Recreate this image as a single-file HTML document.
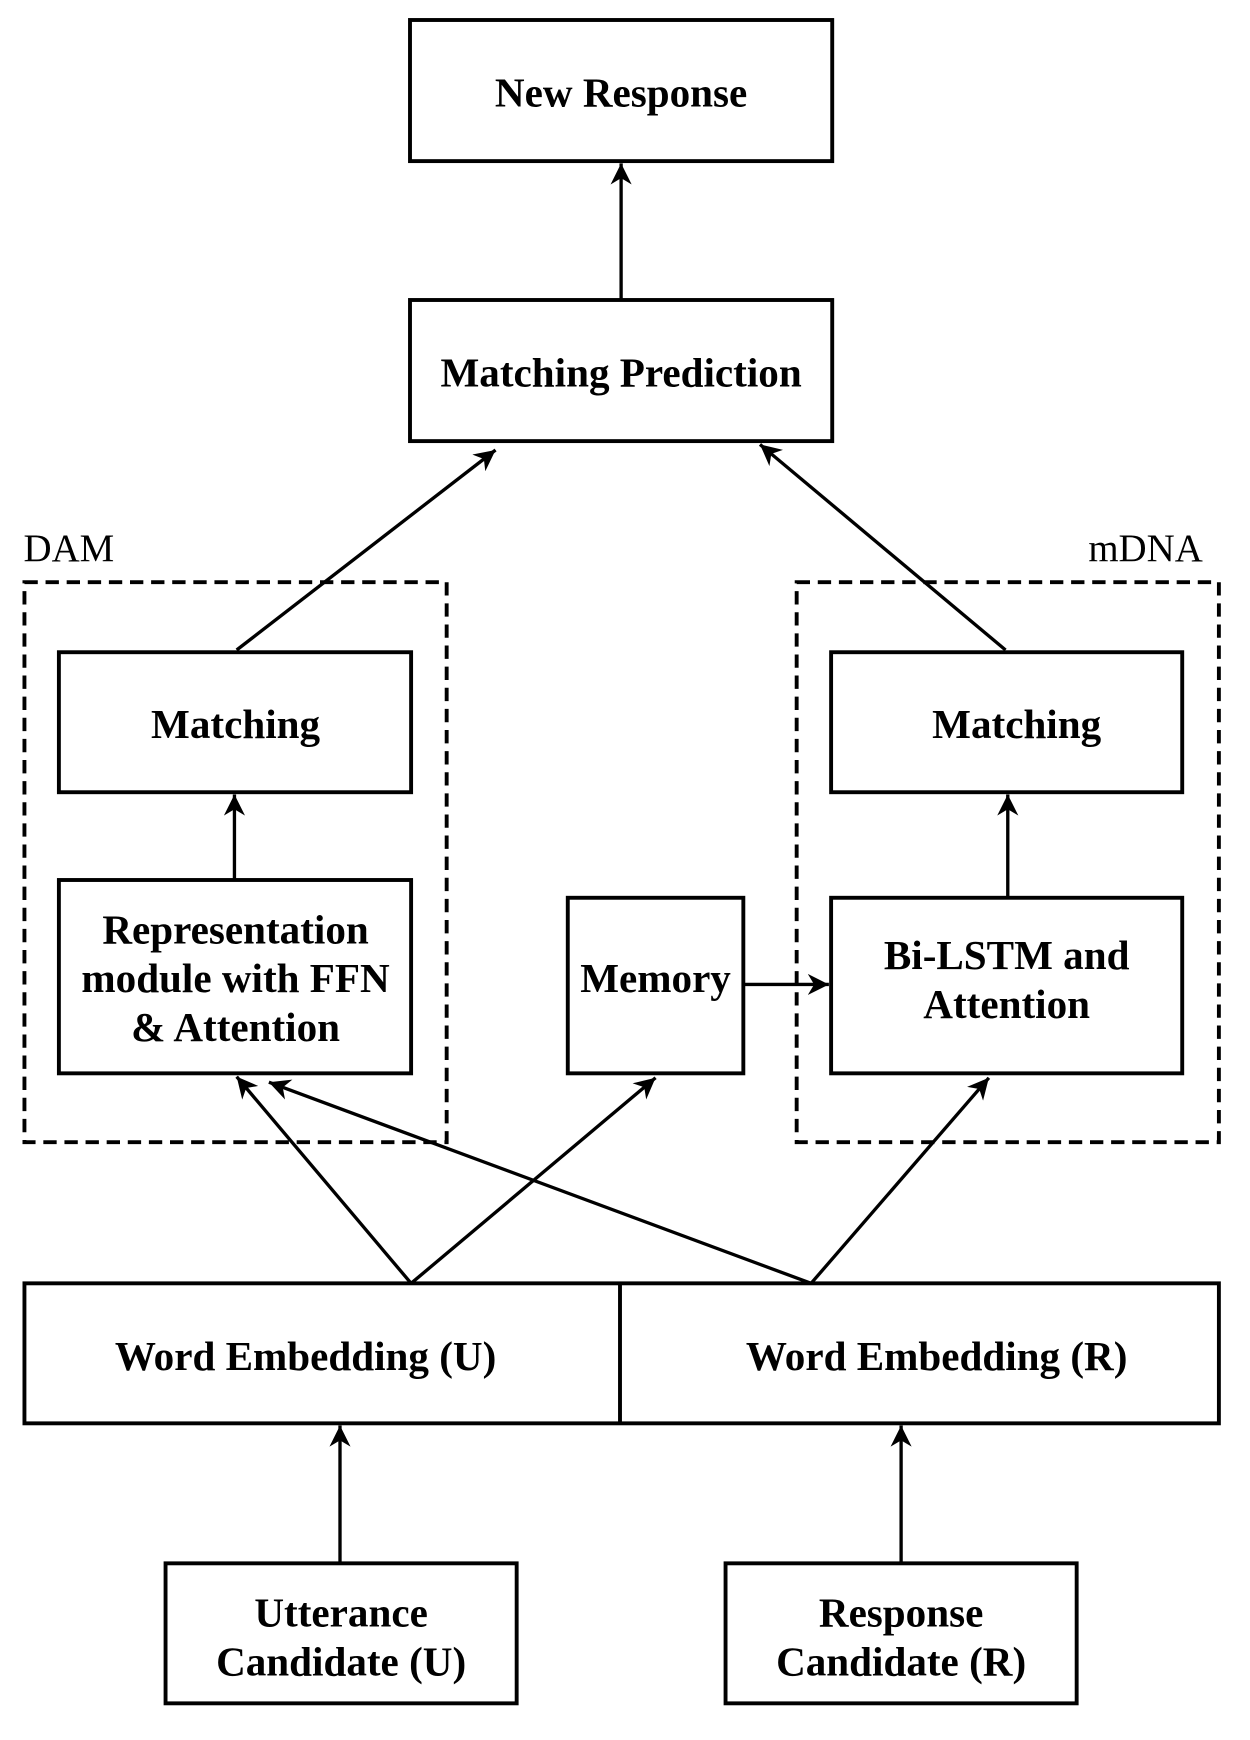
<!DOCTYPE html>
<html><head><meta charset="utf-8"><style>
html,body{margin:0;padding:0;background:#fff;}
svg{display:block;}
text{font-family:"Liberation Serif",serif;font-weight:bold;font-size:37px;text-anchor:middle;fill:#000;}
.l{font-weight:normal;font-size:35px;}
</style></head><body>
<svg width="1250" height="1740" viewBox="0 0 1125 1566" xmlns="http://www.w3.org/2000/svg">
<defs>
<marker id="h" viewBox="0 0 10 10" refX="10" refY="5" markerWidth="19" markerHeight="19" markerUnits="userSpaceOnUse" orient="auto"><path d="M0,0 L10,5 L0,10 L3,5 z" fill="#000"/></marker></defs>
<g fill="none" stroke="#000" stroke-width="3.5">
<rect x="369" y="18" width="380" height="127"/>
<rect x="369" y="270" width="380" height="127"/>
<rect x="22" y="524" width="380" height="504" stroke-dasharray="12,7"/>
<rect x="717" y="524" width="380" height="504" stroke-dasharray="12,7"/>
<rect x="53" y="587" width="317" height="126"/>
<rect x="748" y="587" width="316" height="126"/>
<rect x="53" y="792" width="317" height="174"/>
<rect x="511" y="808" width="158" height="158"/>
<rect x="748" y="808" width="316" height="158"/>
<rect x="22" y="1155" width="1075" height="126"/>
<line x1="558" y1="1155" x2="558" y2="1281"/>
<rect x="149" y="1407" width="316" height="126"/>
<rect x="653" y="1407" width="316" height="126"/>
</g>
<g stroke="#000" stroke-width="3" marker-end="url(#h)">
<line x1="559" y1="270" x2="559" y2="147"/>
<line x1="213" y1="585" x2="446" y2="405"/>
<line x1="905" y1="585" x2="684" y2="400"/>
<line x1="211" y1="792" x2="211" y2="715"/>
<line x1="907" y1="808" x2="907" y2="715"/>
<line x1="669" y1="886" x2="746" y2="886"/>
<line x1="370" y1="1155" x2="213" y2="969"/>
<line x1="370" y1="1155" x2="590" y2="970"/>
<line x1="730" y1="1155" x2="242" y2="974"/>
<line x1="730" y1="1155" x2="890" y2="970"/>
<line x1="306" y1="1407" x2="306" y2="1283"/>
<line x1="811" y1="1407" x2="811" y2="1283"/>
</g>
<text x="559" y="96">New Response</text>
<text x="559" y="348">Matching Prediction</text>
<text class="l" x="62" y="505">DAM</text>
<text class="l" x="1031" y="505">mDNA</text>
<text x="212" y="664">Matching</text>
<text x="915" y="664">Matching</text>
<text x="212" y="849">Representation</text>
<text x="212" y="893">module with FFN</text>
<text x="212" y="937">&amp; Attention</text>
<text x="590" y="893">Memory</text>
<text x="906" y="872">Bi-LSTM and</text>
<text x="906" y="916">Attention</text>
<text x="275" y="1233">Word Embedding (U)</text>
<text x="843" y="1233">Word Embedding (R)</text>
<text x="307" y="1464">Utterance</text>
<text x="307" y="1508">Candidate (U)</text>
<text x="811" y="1464">Response</text>
<text x="811" y="1508">Candidate (R)</text>
</svg>
</body></html>
